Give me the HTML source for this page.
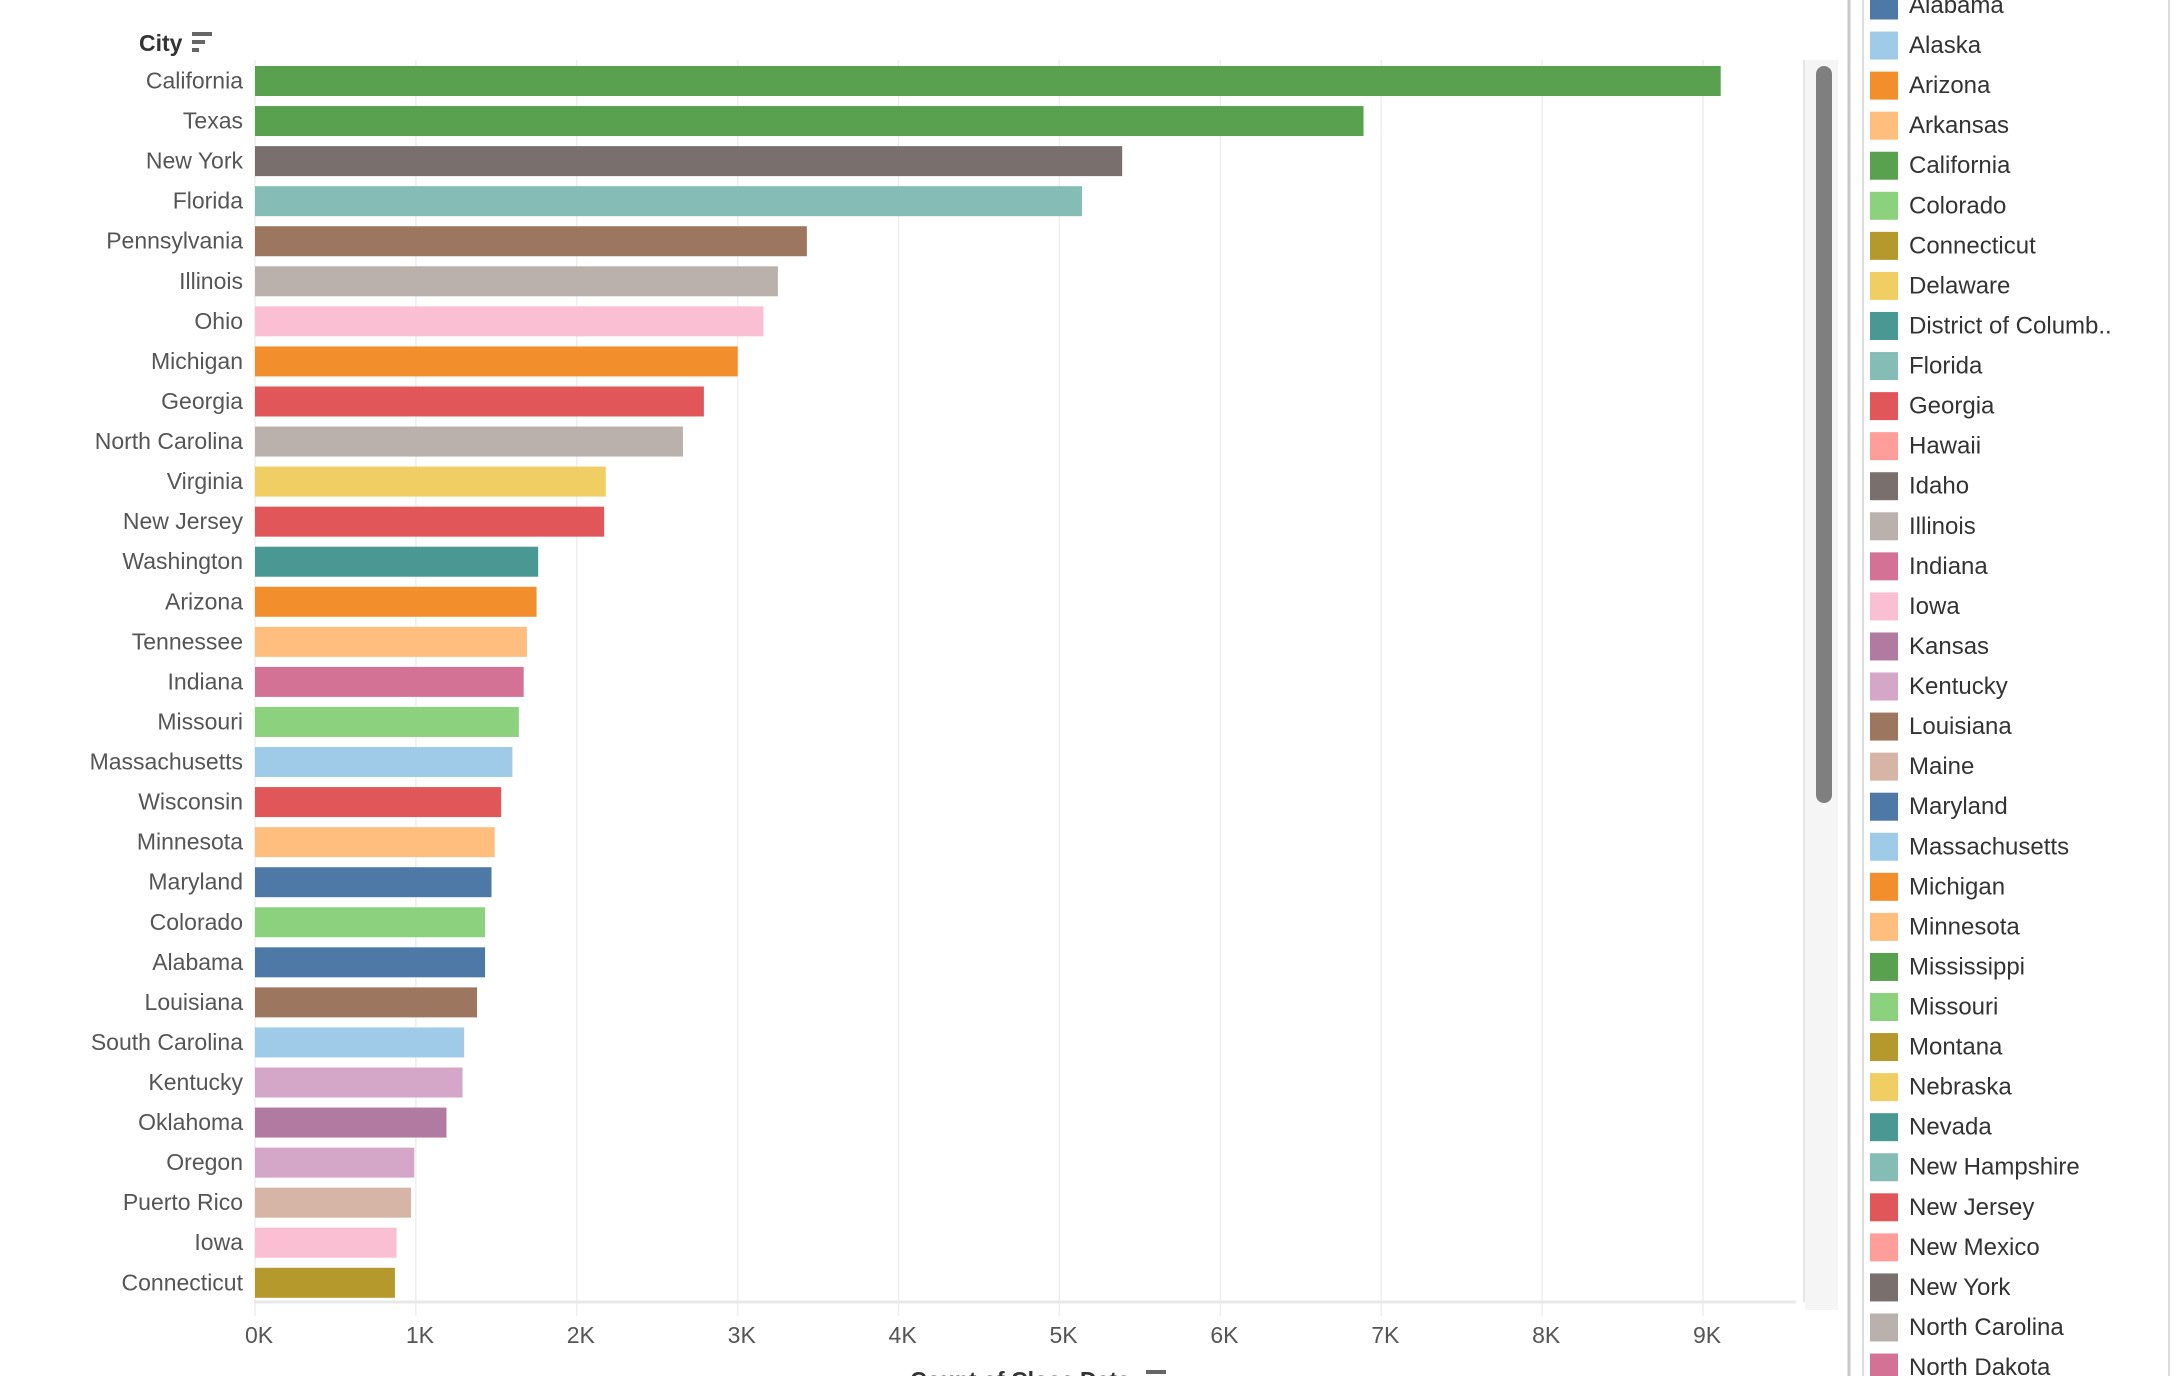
<!DOCTYPE html>
<html><head><meta charset="utf-8"><style>
html,body{margin:0;padding:0;background:#fff;width:2176px;height:1376px;overflow:hidden}
svg{display:block;font-family:"Liberation Sans",sans-serif}
</style></head><body>
<svg id="chart" width="2176" height="1376"></svg>
<script>
const categories=["California","Texas","New York","Florida","Pennsylvania","Illinois","Ohio","Michigan","Georgia","North Carolina","Virginia","New Jersey","Washington","Arizona","Tennessee","Indiana","Missouri","Massachusetts","Wisconsin","Minnesota","Maryland","Colorado","Alabama","Louisiana","South Carolina","Kentucky","Oklahoma","Oregon","Puerto Rico","Iowa","Connecticut"];
const values=[9110,6890,5390,5140,3430,3250,3160,3000,2790,2660,2180,2170,1760,1750,1690,1670,1640,1600,1530,1490,1470,1430,1430,1380,1300,1290,1190,990,970,880,870];
const barColors=["#59a14f","#59a14f","#79706e","#86bcb6","#9d7660","#bab0ac","#fabfd2","#f28e2b","#e15759","#bab0ac","#f1ce63","#e15759","#499894","#f28e2b","#ffbe7d","#d37295","#8cd17d","#a0cbe8","#e15759","#ffbe7d","#4e79a7","#8cd17d","#4e79a7","#9d7660","#a0cbe8","#d4a6c8","#b07aa1","#d4a6c8","#d7b5a6","#fabfd2","#b6992d"];
const tickValues=[0,1000,2000,3000,4000,5000,6000,7000,8000,9000];
const tickLabels=["0K","1K","2K","3K","4K","5K","6K","7K","8K","9K"];
const legendNames=["Alabama","Alaska","Arizona","Arkansas","California","Colorado","Connecticut","Delaware","District of Columb..","Florida","Georgia","Hawaii","Idaho","Illinois","Indiana","Iowa","Kansas","Kentucky","Louisiana","Maine","Maryland","Massachusetts","Michigan","Minnesota","Mississippi","Missouri","Montana","Nebraska","Nevada","New Hampshire","New Jersey","New Mexico","New York","North Carolina","North Dakota"];
const legendColors=["#4e79a7","#a0cbe8","#f28e2b","#ffbe7d","#59a14f","#8cd17d","#b6992d","#f1ce63","#499894","#86bcb6","#e15759","#ff9d9a","#79706e","#bab0ac","#d37295","#fabfd2","#b07aa1","#d4a6c8","#9d7660","#d7b5a6"];

const svg=document.getElementById('chart');
const NS='http://www.w3.org/2000/svg';
function mk(tag,attrs,parent){const e=document.createElementNS(NS,tag);for(const k in attrs)e.setAttribute(k,attrs[k]);(parent||svg).appendChild(e);return e;}
const x0=255, pxPerUnit=(1703-255)/9000;
const xScale=v=>x0+v*pxPerUnit;
const rowTop=60.5, rowH=40.06;
const yScale=i=>rowTop+i*rowH;

tickValues.forEach((t,i)=>{
  const g=mk('line',{x1:xScale(t),x2:xScale(t),y1:60,y2:1302,stroke:'#eeeeee','stroke-width':1.5});
  
  
});
const pe=mk('line',{x1:1804,x2:1804,y1:60,y2:1302,stroke:'#e6e6e6','stroke-width':2});


const al=mk('line',{x1:254,x2:1796,y1:1302,y2:1302,stroke:'#e8e8e8','stroke-width':3});



const hd=mk('text',{x:139,y:51,'font-size':23,'font-weight':'bold',fill:'#333'});
hd.textContent='City';


const si=mk('g',{});


mk('rect',{x:192,y:32,width:20,height:4,fill:'#666'},si);
mk('rect',{x:192,y:40,width:13,height:4,fill:'#666'},si);
mk('rect',{x:192,y:48,width:7,height:4,fill:'#666'},si);

categories.forEach((c,i)=>{
  const y=yScale(i);
  const r=mk('rect',{x:x0,y:y+5.5,width:xScale(values[i])-x0,height:30,fill:barColors[i]});
  
  
  const t=mk('text',{x:243,y:y+28,'font-size':23,fill:'#555','text-anchor':'end'});
  t.textContent=c;
  
  
});

tickValues.forEach((t,i)=>{
  const tk=mk('line',{x1:xScale(t),x2:xScale(t),y1:1303,y2:1316,stroke:'#eeeeee','stroke-width':1.5});
  
  
  const l=mk('text',{x:xScale(t)-10,y:1343,'font-size':23,fill:'#555'});
  l.textContent=tickLabels[i];
  
  
});
const xt=mk('text',{x:1020,y:1388,'font-size':23,'font-weight':'bold',fill:'#333','text-anchor':'middle'});
xt.textContent='Count of Close Date';


const xs=mk('rect',{x:1146,y:1370,width:20,height:4,fill:'#666'});



const tr=mk('rect',{x:1805,y:60,width:33,height:1250,fill:'#f5f5f5'});


const th=mk('rect',{x:1816,y:66,width:16,height:737,rx:8,fill:'#7f7f7f'});



const lb1=mk('line',{x1:1849,x2:1849,y1:0,y2:1376,stroke:'#c8c8c8','stroke-width':3});


const lb2=mk('line',{x1:1863,x2:1863,y1:0,y2:1376,stroke:'#dddddd','stroke-width':2});


const lb3=mk('line',{x1:2169,x2:2169,y1:0,y2:1376,stroke:'#dddddd','stroke-width':2});


legendNames.forEach((n,i)=>{
  const cy=5.5+i*40.06;
  const g=mk('g',{});
  
  
  mk('rect',{x:1870,y:cy-14,width:28,height:28,fill:legendColors[i%legendColors.length]},g);
  const t=mk('text',{x:1909,y:cy+7.5,'font-size':24,fill:'#333'},g);
  t.textContent=n;
});
</script>
</body></html>
